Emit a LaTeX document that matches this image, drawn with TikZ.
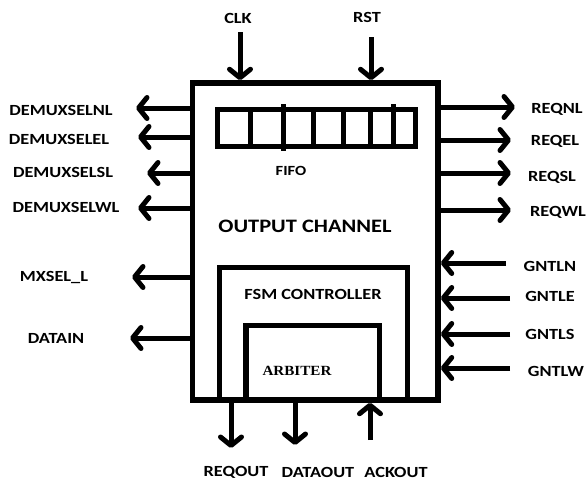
\documentclass[tikz,border=0pt]{standalone}
\usepackage{fontspec}
\setmainfont{Carlito}[FakeStretch=1.18]
\newfontfamily\arbfont{Liberation Serif}[FakeStretch=1.08]
\usetikzlibrary{arrows.meta,positioning}

\begin{document}
\begin{tikzpicture}[
  x=1pt,y=-1pt,
  blk/.style={draw,line width=5.5pt,inner sep=0pt},
  cell/.style={line width=5pt},
  sig/.style={line width=5pt,-{Straight Barb[length=8.5pt,width=21pt,round]}},
  lbl/.style={font=\fontsize{15.5}{17}\selectfont\bfseries,inner sep=0pt}
]
\useasboundingbox (0,0) rectangle (588,482);
% ---------------- blocks ----------------
\node[blk,minimum width=245.5pt,minimum height=317pt] (chan) at (315.25,241.5) {};
\node[blk,minimum width=198pt,minimum height=37pt] (fifo) at (316.5,128) {};
\draw[cell] (250,109.5) -- (250,146.5);
\draw[cell] (283,104) -- (283,151);
\draw[cell] (313,109.5) -- (313,146.5);
\draw[cell] (343,109.5) -- (343,146.5);
\draw[cell] (370,109.5) -- (370,146.5);
\draw[cell] (393,104) -- (393,146.5);
\node[blk,minimum width=188pt,minimum height=132.5pt] (fsm) at (313.5,333.75) {};
\node[blk,minimum width=133.5pt,minimum height=74.5pt] (arb) at (312.75,362.75) {};
\node[lbl,font=\fontsize{14}{16}\selectfont\bfseries] (fifolbl) at (291,171) {FIFO};
\node[lbl,font=\fontsize{19}{22}\selectfont\bfseries] (chanlbl) at (305,226) {OUTPUT CHANNEL};
\node[lbl] (fsmlbl) at (313,294) {FSM CONTROLLER};
\node[lbl,font=\arbfont\fontsize{14}{16}\selectfont\bfseries] (arblbl) at (297,371) {ARBITER};
% ---------------- top inputs ----------------
\node[lbl] (clk) at (238,18) {CLK};
\node[lbl] (rst) at (367,17) {RST};
\coordinate (clkin) at (240,32);
\coordinate (rstin) at (371,37);
\draw[sig] (clkin) -- (chan.north -| clkin);
\draw[sig] (rstin) -- (chan.north -| rstin);
% ---------------- left outputs ----------------
\node[lbl] (dnl) at (61,110) {DEMUXSELNL};
\node[lbl] (del) at (59,139) {DEMUXSELEL};
\node[lbl] (dsl) at (63,172) {DEMUXSELSL};
\node[lbl] (dwl) at (66,207) {DEMUXSELWL};
\node[lbl] (mxsel) at (54,277) {MXSEL\_L};
\node[lbl] (datain) at (56,338) {DATAIN};
\coordinate (dnlout) at (136,108);
\coordinate (delout) at (138,137);
\coordinate (dslout) at (147,173);
\coordinate (dwlout) at (138,208);
\coordinate (mxselout) at (132,277);
\coordinate (datainout) at (130,338);
\draw[sig] (chan.west |- dnlout) -- (dnlout);
\draw[sig] (chan.west |- delout) -- (delout);
\draw[sig] (chan.west |- dslout) -- (dslout);
\draw[sig] (chan.west |- dwlout) -- (dwlout);
\draw[sig] (chan.west |- mxselout) -- (mxselout);
\draw[sig] (chan.west |- datainout) -- (datainout);
% ---------------- right outputs / inputs ----------------
\node[lbl] (reqnl) at (557,109) {REQNL};
\node[lbl] (reqel) at (555,141) {REQEL};
\node[lbl] (reqsl) at (552,177) {REQSL};
\node[lbl] (reqwl) at (558,212) {REQWL};
\coordinate (reqnlout) at (515,107);
\coordinate (reqelout) at (511,140);
\coordinate (reqslout) at (511,173);
\coordinate (reqwlout) at (511,210);
\draw[sig] (chan.east |- reqnlout) -- (reqnlout);
\draw[sig] (chan.east |- reqelout) -- (reqelout);
\draw[sig] (chan.east |- reqslout) -- (reqslout);
\draw[sig] (chan.east |- reqwlout) -- (reqwlout);
\node[lbl] (gntln) at (550,266) {GNTLN};
\node[lbl] (gntle) at (550,296) {GNTLE};
\node[lbl] (gntls) at (550,334) {GNTLS};
\node[lbl] (gntlw) at (556,371) {GNTLW};
\coordinate (gntlnin) at (506,263);
\coordinate (gntlein) at (510,298);
\coordinate (gntlsin) at (510,334);
\coordinate (gntlwin) at (510,368);
\draw[sig] (gntlnin) -- (chan.east |- gntlnin);
\draw[sig] (gntlein) -- (chan.east |- gntlein);
\draw[sig] (gntlsin) -- (chan.east |- gntlsin);
\draw[sig] (gntlwin) -- (chan.east |- gntlwin);
% ---------------- bottom ----------------
\node[lbl] (reqout) at (236,472) {REQOUT};
\node[lbl] (dataout) at (318,472) {DATAOUT};
\node[lbl] (ackout) at (396,472) {ACKOUT};
\coordinate (reqoutend) at (231,448);
\coordinate (dataoutend) at (295,445);
\coordinate (ackoutin) at (370,440);
\draw[sig] (chan.south -| reqoutend) -- (reqoutend);
\draw[sig] (chan.south -| dataoutend) -- (dataoutend);
\draw[sig] (ackoutin) -- (chan.south -| ackoutin);
\end{tikzpicture}
\end{document}
